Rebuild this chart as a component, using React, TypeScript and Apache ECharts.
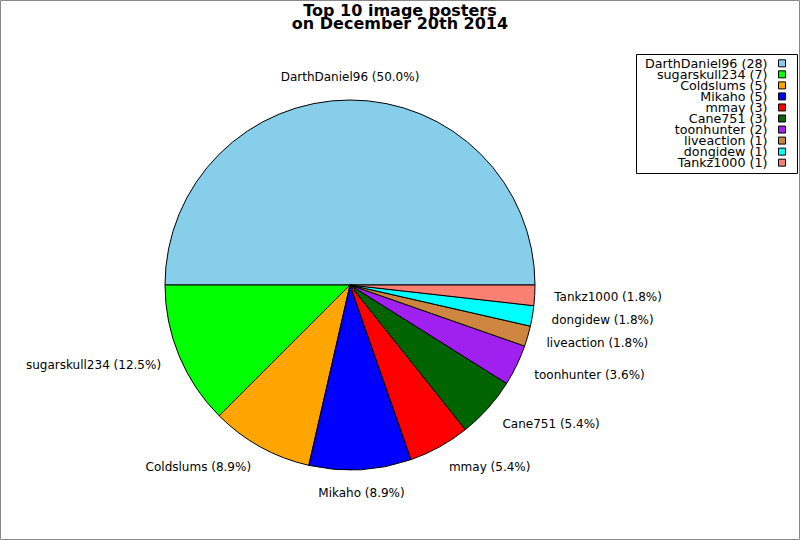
import React, { useEffect, useRef } from "react";
import * as echarts from "echarts";

const names = ["DarthDaniel96", "sugarskull234", "Coldslums", "Mikaho", "mmay", "Cane751", "toonhunter", "liveaction", "dongidew", "Tankz1000"];
const counts = [28, 7, 5, 5, 3, 3, 2, 1, 1, 1];
const colors = ["#87CEEB", "#00FF00", "#FFA500", "#0000FF", "#FF0000", "#006400", "#A020F0", "#CD853F", "#00FFFF", "#FA8072"];
const titleLines = ["Top 10 image posters", "on December 20th 2014"];

const CX = 350;
const CY = 285;
const R = 185;
const LRX = 204.5;
const LRY = 208;
const FONT = "DejaVu Sans";

export default function App() {
  const ref = useRef<HTMLDivElement>(null);
  useEffect(() => {
    if (!ref.current) return;
    const chart = echarts.init(ref.current, null, { renderer: "svg" });
    const total = counts.reduce((a, b) => a + b, 0);
    const mids: number[] = [];
    let acc = 0;
    counts.forEach((v) => {
      mids.push(((acc + v / 2) / total) * Math.PI * 2);
      acc += v;
    });

    const legendX = 636.5;
    const legendY = 54.5;
    const rowY0 = 63.3;
    const rowStep = 11.04;
    const legendItems: any[] = [];
    names.forEach((n, i) => {
      const y = rowY0 + rowStep * i;
      legendItems.push({
        type: "text",
        style: {
          x: 767.5,
          y,
          text: `${n} (${counts[i]})`,
          align: "right",
          verticalAlign: "middle",
          font: `12.7px "${FONT}"`,
          fill: "#000",
        },
      });
      legendItems.push({
        type: "rect",
        shape: { x: 778.5, y: y - 3.5, width: 7, height: 7 },
        style: { fill: colors[i], stroke: "#000", lineWidth: 1 },
      });
    });

    const titleItems = titleLines.map((t, i) => ({
      type: "text",
      style: {
        x: 400,
        y: 10.5 + 13 * i,
        text: t,
        align: "center",
        verticalAlign: "middle",
        font: `bold 16px "${FONT}"`,
        fill: "#000",
      },
    }));

    chart.setOption({
      animation: false,
      backgroundColor: "#fff",
      graphic: [
        {
          type: "rect",
          shape: { x: 0.5, y: 0.5, width: 799, height: 539 },
          style: { fill: "none", stroke: "#888", lineWidth: 1 },
          silent: true,
        },
        ...titleItems,
        {
          type: "rect",
          shape: { x: legendX, y: legendY, width: 161, height: 119 },
          style: { fill: "#fff", stroke: "#000", lineWidth: 1 },
        },
        ...legendItems,
      ],
      series: [
        {
          type: "pie",
          center: [CX, CY],
          radius: R,
          startAngle: 0,
          clockwise: false,
          avoidLabelOverlap: false,
          data: names.map((n, i) => ({ name: n, value: counts[i], itemStyle: { color: colors[i] } })),
          itemStyle: { borderColor: "#000", borderWidth: 1 },
          emphasis: { disabled: true },
          label: {
            show: true,
            position: "outside",
            formatter: (p: any) => `${p.name} (${(p.value / total * 100).toFixed(1)}%)`,
            fontFamily: FONT,
            fontSize: 12,
            color: "#000",
          },
          labelLine: { show: false, length: 19.5, length2: 0 },
          labelLayout: (params: any) => {
            const a = mids[params.dataIndex];
            const c = Math.cos(a);
            const s = -Math.sin(a);
            return {
              x: CX + LRX * c,
              y: CY + LRY * s,
              align: Math.abs(c) < 0.2 ? "center" : c > 0 ? "left" : "right",
              verticalAlign: "middle",
            };
          },
        },
      ],
    });
    return () => chart.dispose();
  }, []);
  return <div ref={ref} style={{ position: "fixed", left: 0, top: 0, width: 800, height: 540 }} />;
}
